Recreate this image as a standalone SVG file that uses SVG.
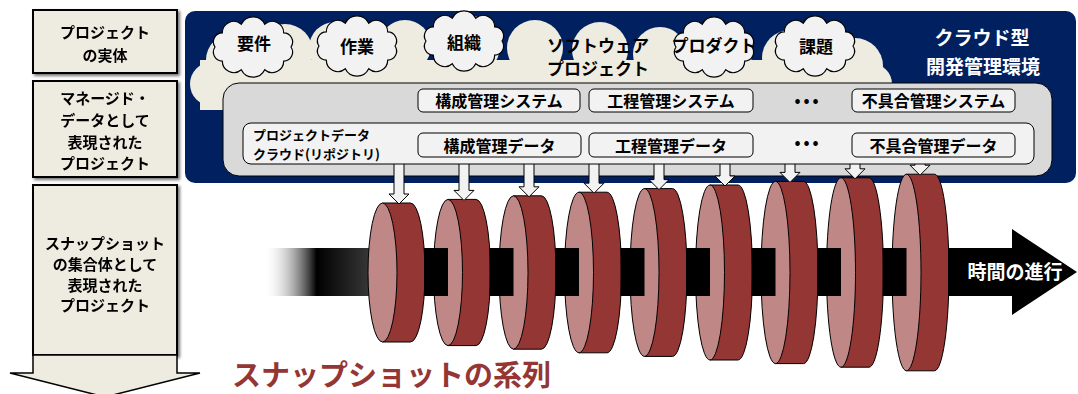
<svg xmlns="http://www.w3.org/2000/svg" width="1078" height="394" viewBox="0 0 1078 394">
  <defs>
    <style>
      .jp { font-family: "Noto Sans CJK JP", "Noto Sans", sans-serif; font-weight: bold; }
      .side { fill: #EEECE1; stroke: #000; stroke-width: 2; }
      .side-t { font-size: 15px; fill: #000; text-anchor: middle; }
      .puff { fill: #F2F2F2; stroke: #000; stroke-width: 1.2; }
      .puff-t { font-size: 17px; fill: #000; text-anchor: middle; }
      .sys { fill: #F2F2F2; stroke: #000; stroke-width: 1; }
      .sys-t { font-size: 16px; fill: #000; text-anchor: middle; }
      .body { fill: #943634; stroke: #000; stroke-width: 1; }
      .face { fill: #BF8785; stroke: #000; stroke-width: 1; }
      .shaft { fill: #000; }
      .feed { fill: #F2F2F2; stroke: #000; stroke-width: 1; }
      .white-t { fill: #fff; text-anchor: middle; }
    </style>
    <filter id="shadow" x="-10%" y="-10%" width="130%" height="130%">
      <feDropShadow dx="2" dy="2" stdDeviation="1.5" flood-color="#000" flood-opacity="0.55"/>
    </filter>
    <linearGradient id="fade" x1="263" y1="0" x2="382" y2="0" gradientUnits="userSpaceOnUse">
      <stop offset="0" stop-color="#fff" stop-opacity="0"/>
      <stop offset="0.45" stop-color="#000"/>
      <stop offset="1" stop-color="#444"/>
    </linearGradient>
    <!-- small puffy cloud, centred on the origin -->
    <path id="puff" d="M38,0 A9,9 0 0 1 30.7,14.1 A11.5,11.5 0 0 1 11.7,22.8 A13,13 0 0 1 -11.7,22.8 A11.5,11.5 0 0 1 -30.7,14.1 A9,9 0 0 1 -38,0 A9,9 0 0 1 -30.7,-14.1 A11.5,11.5 0 0 1 -11.7,-22.8 A13,13 0 0 1 11.7,-22.8 A11.5,11.5 0 0 1 30.7,-14.1 A9,9 0 0 1 38,0 Z"/>
  </defs>

  <!-- left-hand legend column -->
  <g id="legend-entity" filter="url(#shadow)">
    <rect class="side" x="33" y="10" width="144" height="63"/>
    <text class="jp side-t" x="105" y="38">プロジェクト</text>
    <text class="jp side-t" x="105" y="61">の実体</text>
  </g>
  <g id="legend-managed" filter="url(#shadow)">
    <rect class="side" x="33" y="81" width="144" height="96"/>
    <text class="jp side-t" x="105" y="104">マネージド・</text>
    <text class="jp side-t" x="105" y="126">データとして</text>
    <text class="jp side-t" x="105" y="148">表現された</text>
    <text class="jp side-t" x="105" y="169">プロジェクト</text>
  </g>
  <g id="legend-snapshots" filter="url(#shadow)">
    <rect class="side" x="33" y="185" width="144" height="170"/>
    <text class="jp side-t" x="105" y="249">スナップショット</text>
    <text class="jp side-t" x="105" y="270">の集合体として</text>
    <text class="jp side-t" x="105" y="291">表現された</text>
    <text class="jp side-t" x="105" y="311">プロジェクト</text>
  </g>
  <g id="legend-arrow">
    <polygon points="33,355 177,355 177,373 200,373 105,397 10,373 33,373" fill="#EEECE1" stroke="#000" stroke-width="1.5"/>
  </g>

  <!-- cloud development environment -->
  <g id="environment">
    <rect x="185" y="11" width="891" height="172" rx="10" fill="#002060"/>
    <text class="jp white-t" x="982" y="45" font-size="19">クラウド型</text>
    <text class="jp white-t" x="983" y="74" font-size="19">開発管理環境</text>
  </g>

  <!-- the software project as a large cloud -->
  <g id="software-project" fill="#EEECE1">
    <circle cx="212" cy="84" r="22"/>
    <circle cx="232" cy="60" r="26"/>
    <circle cx="285" cy="52" r="28"/>
    <circle cx="335" cy="48" r="26"/>
    <circle cx="405" cy="46" r="26"/>
    <circle cx="470" cy="46" r="30"/>
    <circle cx="535" cy="48" r="28"/>
    <circle cx="600" cy="50" r="28"/>
    <circle cx="660" cy="54" r="27"/>
    <circle cx="725" cy="54" r="27"/>
    <circle cx="790" cy="58" r="28"/>
    <circle cx="855" cy="66" r="28"/>
    <circle cx="872" cy="84" r="20"/>
    <rect x="200" y="60" width="680" height="50"/>
    <text class="jp puff-t" x="598" y="52" fill="#000">ソフトウェア</text>
    <text class="jp puff-t" x="598" y="75" fill="#000">プロジェクト</text>
  </g>

  <g id="cloud-requirements">
    <use href="#puff" class="puff" x="253" y="47"/>
    <text class="jp puff-t" x="254" y="50">要件</text>
  </g>
  <g id="cloud-work">
    <use href="#puff" class="puff" x="357" y="46"/>
    <text class="jp puff-t" x="357" y="53">作業</text>
  </g>
  <g id="cloud-organization">
    <use href="#puff" class="puff" x="464" y="41"/>
    <text class="jp puff-t" x="464" y="49">組織</text>
  </g>
  <g id="cloud-product">
    <use href="#puff" class="puff" x="714" y="47"/>
    <text class="jp puff-t" x="714" y="52" font-size="16">プロダクト</text>
  </g>
  <g id="cloud-issues">
    <use href="#puff" class="puff" x="815" y="46"/>
    <text class="jp puff-t" x="816" y="53">課題</text>
  </g>

  <!-- management systems panel -->
  <g id="systems">
    <rect x="223" y="83" width="829" height="93" rx="16" fill="#D9D9D9" stroke="#000" stroke-width="1"/>
  </g>
  <g id="sys-config">
    <rect class="sys" x="418" y="89" width="162" height="23" rx="5"/>
    <text class="jp sys-t" x="499" y="107">構成管理システム</text>
  </g>
  <g id="sys-process">
    <rect class="sys" x="589" y="89" width="164" height="23" rx="5"/>
    <text class="jp sys-t" x="671" y="107">工程管理システム</text>
  </g>
  <text class="jp sys-t" x="808" y="106" letter-spacing="3">•••</text>
  <g id="sys-defect">
    <rect class="sys" x="852" y="89" width="163" height="23" rx="5"/>
    <text class="jp sys-t" x="933.5" y="107">不具合管理システム</text>
  </g>

  <!-- snapshot discs along the time axis -->
  <g id="timeline">
    <rect x="263" y="248" width="119.5" height="48" fill="url(#fade)"/>
  </g>
  <g id="snapshot-1">
    <path class="body" d="M382.5,203 H410.5 A14.5,69.5 0 0 1 410.5,342 H382.5 Z"/>
    <ellipse class="face" cx="382.5" cy="272.5" rx="14.5" ry="69.5"/>
  </g>
  <g id="snapshot-2">
    <path class="body" d="M448,199.4 H476 A14.5,73.1 0 0 1 476,345.6 H448 Z"/>
    <ellipse class="face" cx="448" cy="272.5" rx="14.5" ry="73.1"/>
  </g>
  <g id="snapshot-3">
    <path class="body" d="M513.5,195.8 H541.5 A14.5,76.7 0 0 1 541.5,349.2 H513.5 Z"/>
    <ellipse class="face" cx="513.5" cy="272.5" rx="14.5" ry="76.7"/>
  </g>
  <g id="snapshot-4">
    <path class="body" d="M579,192.2 H607 A14.5,80.3 0 0 1 607,352.8 H579 Z"/>
    <ellipse class="face" cx="579" cy="272.5" rx="14.5" ry="80.3"/>
  </g>
  <g id="snapshot-5">
    <path class="body" d="M644.5,188.6 H672.5 A14.5,83.9 0 0 1 672.5,356.4 H644.5 Z"/>
    <ellipse class="face" cx="644.5" cy="272.5" rx="14.5" ry="83.9"/>
  </g>
  <g id="snapshot-6">
    <path class="body" d="M710,185 H738 A14.5,87.5 0 0 1 738,360 H710 Z"/>
    <ellipse class="face" cx="710" cy="272.5" rx="14.5" ry="87.5"/>
  </g>
  <g id="snapshot-7">
    <path class="body" d="M775.5,181.4 H803.5 A14.5,91.1 0 0 1 803.5,363.6 H775.5 Z"/>
    <ellipse class="face" cx="775.5" cy="272.5" rx="14.5" ry="91.1"/>
  </g>
  <g id="snapshot-8">
    <path class="body" d="M841,177.8 H869 A14.5,94.7 0 0 1 869,367.2 H841 Z"/>
    <ellipse class="face" cx="841" cy="272.5" rx="14.5" ry="94.7"/>
  </g>
  <g id="snapshot-9">
    <path class="body" d="M906.5,174.2 H934.5 A14.5,98.3 0 0 1 934.5,370.8 H906.5 Z"/>
    <ellipse class="face" cx="906.5" cy="272.5" rx="14.5" ry="98.3"/>
  </g>

  <!-- connectors: axle pieces, time arrow and snapshot feeds -->
  <g id="connectors">
    <rect class="shaft" x="424" y="248" width="24" height="48"/>
    <rect class="shaft" x="489.5" y="248" width="24" height="48"/>
    <rect class="shaft" x="555" y="248" width="24" height="48"/>
    <rect class="shaft" x="620.5" y="248" width="24" height="48"/>
    <rect class="shaft" x="686" y="248" width="24" height="48"/>
    <rect class="shaft" x="751.5" y="248" width="24" height="48"/>
    <rect class="shaft" x="817" y="248" width="24" height="48"/>
    <rect class="shaft" x="882.5" y="248" width="24" height="48"/>
    <polygon class="shaft" points="948,248 1012,248 1012,229 1077,272 1012,315 1012,296 948,296"/>
    <text class="jp white-t" x="1015" y="279" font-size="19">時間の進行</text>

    <polygon class="feed" points="394,163 404,163 404,194 409,194 399,204 389,194 394,194"/>
    <polygon class="feed" points="459,163 469,163 469,190.4 474,190.4 464,200.4 454,190.4 459,190.4"/>
    <polygon class="feed" points="524,163 534,163 534,186.8 539,186.8 529,196.8 519,186.8 524,186.8"/>
    <polygon class="feed" points="589,163 599,163 599,183.2 604,183.2 594,193.2 584,183.2 589,183.2"/>
    <polygon class="feed" points="654,163 664,163 664,179.6 669,179.6 659,189.6 649,179.6 654,179.6"/>
    <polygon class="feed" points="720,163 730,163 730,176 735,176 725,186 715,176 720,176"/>
    <polygon class="feed" points="785,163 795,163 795,172.4 800,172.4 790,182.4 780,172.4 785,172.4"/>
    <polygon class="feed" points="850,163 860,163 860,168.8 865,168.8 855,178.8 845,168.8 850,168.8"/>
    <polygon class="feed" points="915,163 925,163 925,165.2 930,165.2 920,175.2 910,165.2 915,165.2"/>
  </g>

  <!-- project data repository -->
  <g id="repository">
    <rect x="243" y="123" width="791" height="41" rx="8" fill="#F2F2F2" stroke="#000" stroke-width="1"/>
    <text class="jp" x="253" y="140" font-size="13">プロジェクトデータ</text>
    <text class="jp" x="253" y="159" font-size="13">クラウド(リポジトリ)</text>
  </g>
  <g id="data-config">
    <rect class="sys" x="418" y="133" width="163" height="24" rx="5"/>
    <text class="jp sys-t" x="499.5" y="152">構成管理データ</text>
  </g>
  <g id="data-process">
    <rect class="sys" x="589" y="133" width="164" height="24" rx="5"/>
    <text class="jp sys-t" x="671" y="152">工程管理データ</text>
  </g>
  <text class="jp sys-t" x="808" y="148" letter-spacing="3">•••</text>
  <g id="data-defect">
    <rect class="sys" x="852" y="133" width="163" height="24" rx="5"/>
    <text class="jp sys-t" x="933.5" y="152">不具合管理データ</text>
  </g>

  <text class="jp" x="232" y="386" font-size="29" fill="#943634">スナップショットの系列</text>
</svg>
